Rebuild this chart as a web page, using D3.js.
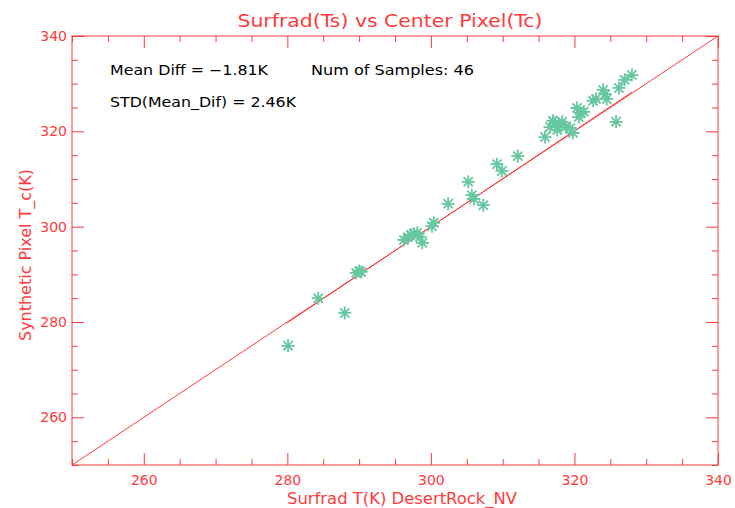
<!DOCTYPE html>
<html><head><meta charset="utf-8">
<script src="https://cdn.jsdelivr.net/npm/d3@7"></script>
<style>body{margin:0;background:#fff}svg{display:block}</style>
</head><body>
<svg id="c" width="735" height="508"></svg>
<script>
// Data (Surfrad T_s, Synthetic pixel T_c), in K
const surfradT = [280.1,284.3,288.0,289.6,290.0,290.3,296.25,296.8,297.2,297.6,298.1,298.5,298.8,300.15,300.4,302.4,305.2,305.7,306.0,307.3,309.2,309.9,312.1,315.9,316.6,317.0,317.3,317.6,318.0,318.3,318.8,319.4,319.8,320.35,320.6,320.9,321.3,322.6,323.0,324.0,324.3,324.5,325.8,326.2,327.0,328.0];
const pixelT   = [275.0,285.0,281.9,290.3,290.7,290.5,297.2,297.8,298.3,298.5,298.7,297.8,296.6,300.1,300.8,304.8,309.4,306.6,305.8,304.5,313.1,311.7,314.8,318.8,320.9,322.2,321.75,320.3,321.3,322.0,320.9,320.7,319.65,324.9,323.0,323.85,324.1,326.4,326.8,328.7,327.8,326.8,322.0,329.1,330.8,331.8];
const oneToOne = [[250,250],[340,340]];
const fitLine  = [[280,279.85],[328,328.2]];
const majorTicks = [260,280,300,320,340];
const minorTicks = [250,255,265,270,275,285,290,295,305,310,315,325,330,335];
const domain = [250,340];
const titleText = "Surfrad(Ts) vs Center Pixel(Tc)";
const xTitle = "Surfrad T(K) DesertRock_NV";
const yTitle = "Synthetic Pixel T_c(K)";
const notes = [["Mean Diff = \u22121.81K",110,75,158],["Num of Samples: 46",311,75,163],["STD(Mean_Dif) = 2.46K",110,107,186]];

const RED = "#ff3a3a", GREEN = "#66c8a0";
const L=72,R=718,T=36,B=465;
const svg = d3.select("#c");
const x = d3.scaleLinear().domain(domain).range([L,R]);
const y = d3.scaleLinear().domain(domain).range([B,T]);
const font = "DejaVu Sans, sans-serif";

function styleAxis(g){
  g.select(".domain").remove();
  g.selectAll("line").attr("stroke",RED).attr("stroke-width",1);
  g.selectAll("text").attr("fill",RED).attr("font-family",font).attr("font-size",14);
}
// bottom
svg.append("g").attr("transform",`translate(0,${B})`).call(d3.axisBottom(x).tickValues(majorTicks).tickSize(-12).tickPadding(10).tickFormat(d3.format("d"))).call(styleAxis);
svg.append("g").attr("transform",`translate(0,${B})`).call(d3.axisBottom(x).tickValues(minorTicks).tickSize(-6).tickFormat("")).call(styleAxis);
// top
svg.append("g").attr("transform",`translate(0,${T})`).call(d3.axisTop(x).tickValues(majorTicks).tickSize(-12).tickFormat("")).call(styleAxis);
svg.append("g").attr("transform",`translate(0,${T})`).call(d3.axisTop(x).tickValues(minorTicks).tickSize(-6).tickFormat("")).call(styleAxis);
// left
svg.append("g").attr("transform",`translate(${L},0)`).call(d3.axisLeft(y).tickValues(majorTicks).tickSize(-12).tickPadding(5).tickFormat(d3.format("d"))).call(styleAxis);
svg.append("g").attr("transform",`translate(${L},0)`).call(d3.axisLeft(y).tickValues(minorTicks).tickSize(-6).tickFormat("")).call(styleAxis);
// right
svg.append("g").attr("transform",`translate(${R},0)`).call(d3.axisRight(y).tickValues(majorTicks).tickSize(-12).tickFormat("")).call(styleAxis);
svg.append("g").attr("transform",`translate(${R},0)`).call(d3.axisRight(y).tickValues(minorTicks).tickSize(-6).tickFormat("")).call(styleAxis);

svg.append("rect").attr("x",L).attr("y",T).attr("width",R-L).attr("height",B-T).attr("fill","none").attr("stroke",RED).attr("stroke-width",1);

const line = d3.line().x(d=>x(d[0])).y(d=>y(d[1]));
svg.append("path").attr("d",line(oneToOne)).attr("stroke",RED).attr("fill","none").attr("stroke-width",1);
svg.append("path").attr("d",line(fitLine)).attr("stroke",RED).attr("fill","none").attr("stroke-width",1);

// asterisk points
const pts = surfradT.map((v,i)=>[v,pixelT[i]]);
const s = 6.5, s2 = 4.6;
const g = svg.append("g").attr("stroke",GREEN).attr("stroke-width",1.8).attr("fill","none");
pts.forEach(p=>{
  const cx=x(p[0]), cy=y(p[1]);
  g.append("path").attr("d",`M${cx-s},${cy}L${cx+s},${cy}M${cx},${cy-s}L${cx},${cy+s}M${cx-s2},${cy-s2}L${cx+s2},${cy+s2}M${cx-s2},${cy+s2}L${cx+s2},${cy-s2}`);
});

function txt(t,xx,yy,size,len,col,anchor){
  return svg.append("text").attr("x",xx).attr("y",yy).attr("text-anchor",anchor||"start").attr("fill",col).attr("font-family",font).attr("font-size",size).attr("textLength",len).attr("lengthAdjust","spacingAndGlyphs").text(t);
}
txt(titleText,390,27,18,305,RED,"middle");
txt(xTitle,402,504,15,230,RED,"middle");
svg.append("text").attr("transform",`translate(31,255) rotate(-90)`).attr("text-anchor","middle").attr("fill",RED).attr("font-family",font).attr("font-size",15).attr("textLength",172).attr("lengthAdjust","spacingAndGlyphs").text(yTitle);
notes.forEach(n=>txt(n[0],n[1],n[2],14,n[3],"#000"));
</script>
</body></html>
